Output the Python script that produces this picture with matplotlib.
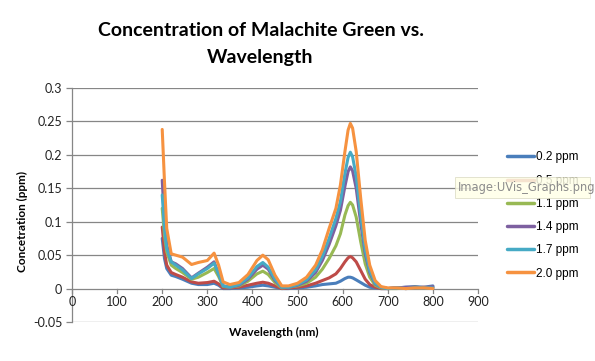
import matplotlib
matplotlib.use("Agg")
import matplotlib.pyplot as plt
from matplotlib.patches import Rectangle

# wavelength (nm) and absorbance-derived concentration per standard
wavelength = [200, 205, 210, 220, 230, 245, 265, 280, 300, 315, 325, 335, 350, 370, 390,
              410, 423, 435, 450, 465, 480, 500, 520, 540, 555, 570, 585, 595, 605, 612,
              617, 622, 630, 640, 650, 660, 672, 685, 700, 720, 740, 760, 780, 800]

c_02 = [0.075, 0.045, 0.030, 0.020, 0.018, 0.014, 0.008, 0.006, 0.006, 0.008, 0.005, 0.000,
        0.000, 0.001, 0.002, 0.004, 0.005, 0.004, 0.002, 0.000, 0.000, 0.001, 0.002, 0.004,
        0.006, 0.007, 0.008, 0.011, 0.015, 0.017, 0.017, 0.016, 0.013, 0.009, 0.005, 0.002,
        0.001, 0.000, 0.000, 0.001, 0.002, 0.003, 0.002, 0.004]
c_05 = [0.092, 0.055, 0.035, 0.024, 0.021, 0.017, 0.010, 0.008, 0.009, 0.011, 0.007, 0.001,
        0.001, 0.002, 0.005, 0.008, 0.0095, 0.008, 0.004, 0.000, 0.001, 0.002, 0.004, 0.008,
        0.012, 0.016, 0.022, 0.030, 0.040, 0.046, 0.048, 0.046, 0.040, 0.027, 0.014, 0.006,
        0.002, 0.000, 0.000, 0.001, 0.000, 0.001, 0.002, 0.001]
c_11 = [0.120, 0.080, 0.055, 0.035, 0.030, 0.024, 0.014, 0.017, 0.024, 0.030, 0.018, 0.003,
        0.002, 0.004, 0.011, 0.022, 0.026, 0.021, 0.009, 0.001, 0.002, 0.004, 0.008, 0.017,
        0.029, 0.045, 0.064, 0.082, 0.110, 0.124, 0.129, 0.125, 0.107, 0.070, 0.037, 0.017,
        0.005, 0.001, 0.000, 0.000, 0.001, 0.002, 0.001, 0.002]
c_14 = [0.162, 0.100, 0.065, 0.040, 0.037, 0.030, 0.016, 0.023, 0.032, 0.040, 0.022, 0.004,
        0.002, 0.005, 0.014, 0.029, 0.035, 0.029, 0.012, 0.002, 0.002, 0.005, 0.011, 0.024,
        0.042, 0.066, 0.094, 0.117, 0.153, 0.175, 0.182, 0.176, 0.150, 0.098, 0.052, 0.024,
        0.007, 0.002, 0.000, 0.001, 0.002, 0.002, 0.001, 0.003]
c_17 = [0.140, 0.090, 0.060, 0.040, 0.035, 0.028, 0.015, 0.022, 0.030, 0.038, 0.022, 0.004,
        0.002, 0.006, 0.016, 0.033, 0.039, 0.032, 0.014, 0.002, 0.002, 0.006, 0.013, 0.028,
        0.048, 0.075, 0.105, 0.130, 0.172, 0.196, 0.204, 0.197, 0.168, 0.110, 0.058, 0.027,
        0.008, 0.002, 0.000, 0.001, 0.000, 0.001, 0.001, 0.001]
c_20 = [0.238, 0.160, 0.090, 0.052, 0.050, 0.047, 0.036, 0.039, 0.042, 0.053, 0.035, 0.010,
        0.006, 0.009, 0.021, 0.042, 0.050, 0.043, 0.020, 0.004, 0.004, 0.008, 0.017, 0.035,
        0.058, 0.090, 0.120, 0.155, 0.205, 0.237, 0.247, 0.240, 0.205, 0.135, 0.072, 0.035,
        0.012, 0.003, 0.001, 0.001, 0.000, 0.001, 0.001, 0.000]

labels = ["0.2 ppm", "0.5 ppm", "1.1 ppm", "1.4 ppm", "1.7 ppm", "2.0 ppm"]
series = [c_02, c_05, c_11, c_14, c_17, c_20]
colors = ["#4A7EBB", "#BE4B48", "#98B954", "#7D60A0", "#46AAC5", "#F69240"]

fig = plt.figure(figsize=(5.95, 3.61), dpi=100)
ax = fig.add_axes([72 / 595, 1 - 322 / 361, 406 / 595, 234 / 361])

for y, lab, col in zip(series, labels, colors):
    ax.plot(wavelength, y, color=col, lw=2.2, label=lab, solid_capstyle="round")

ax.set_xlim(0, 900)
ax.set_ylim(-0.05, 0.3)
yt = [-0.05, 0, 0.05, 0.1, 0.15, 0.2, 0.25, 0.3]
ax.set_yticks(yt)
ax.set_yticklabels(["-0.05", "0", "0.05", "0.1", "0.15", "0.2", "0.25", "0.3"])
ax.set_xticks(range(0, 901, 100))
for v in yt:
    ax.axhline(v, color="#868686", lw=0.9, zorder=0)

# excel-style: x axis crosses at y=0
for s in ["top", "right", "bottom"]:
    ax.spines[s].set_visible(False)
ax.spines["left"].set_color("#868686")
ax.spines["left"].set_linewidth(0.9)
ax.xaxis.set_ticks_position("none")
ax.tick_params(axis="y", length=4, color="#868686", width=0.9, labelsize=9, pad=3)
ax.tick_params(axis="x", labelsize=9, pad=1)
for xv in range(0, 901, 100):
    ax.plot([xv, xv], [0, -0.0065], color="#868686", lw=0.9, clip_on=False, zorder=0)
ax.set_xticklabels([])
for xv in range(0, 901, 100):
    ax.text(xv, -0.0115, str(xv), ha="center", va="top", fontsize=9, family="Lato", color="#222222")
for lab in ax.get_yticklabels():
    lab.set_family("Lato")
    lab.set_color("#222222")

fig.text(261 / 595, 1 - 31 / 361, "Concentration of Malachite Green vs.",
         ha="center", va="center", fontsize=14, fontweight="bold", family="Lato")
fig.text(260 / 595, 1 - 58 / 361, "Wavelength",
         ha="center", va="center", fontsize=14, fontweight="bold", family="Lato")
fig.text(274 / 595, 1 - 332 / 361, "Wavelength (nm)", ha="center", va="center",
         fontsize=8.5, fontweight="bold", family="Lato")
fig.text(22 / 595, 1 - 222 / 361, "Concetration (ppm)", ha="center", va="center",
         rotation=90, fontsize=8.5, fontweight="bold", family="Lato")

leg = ax.legend(loc="center left", bbox_to_anchor=(507 / 595, 1 - 215.5 / 361),
                bbox_transform=fig.transFigure, frameon=False, fontsize=8.5,
                handlelength=2.3, handletextpad=0.15, labelspacing=0.95,
                borderpad=0, borderaxespad=0)
for t in leg.get_texts():
    t.set_family("Liberation Sans")
for h in leg.get_lines():
    h.set_linewidth(2.5)

# browser tooltip captured in the screenshot
fig.patches.append(Rectangle((455 / 595, 1 - 198 / 361), 135 / 595, 21 / 361,
                             transform=fig.transFigure, facecolor="#FFFFE8", alpha=0.85,
                             edgecolor="#D8D8C0", lw=0.6))
fig.text(458 / 595, 1 - 187.5 / 361, "Image:UVis_Graphs.png", ha="left", va="center",
         fontsize=8.3, color="#8C8C8C", family="DejaVu Sans")

fig.savefig("out.png", dpi=100)
